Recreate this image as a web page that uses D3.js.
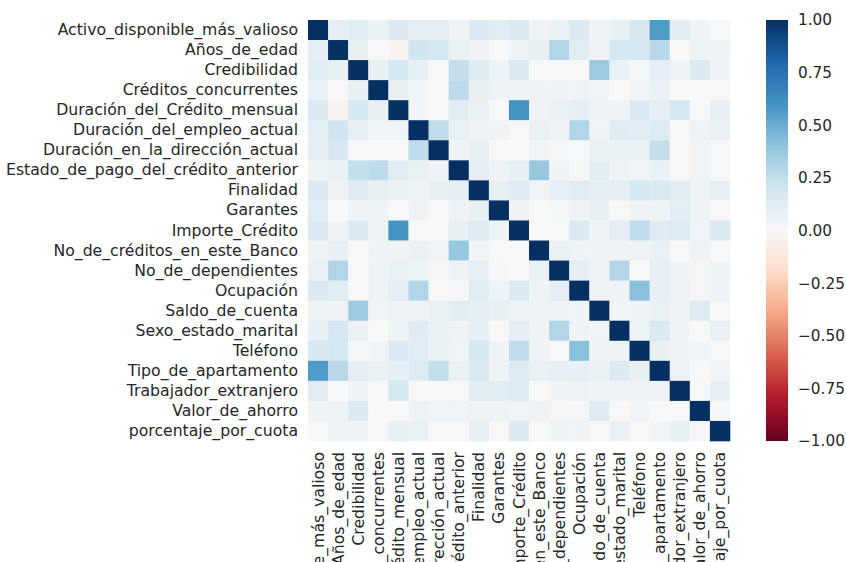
<!DOCTYPE html>
<html>
<head>
<meta charset="utf-8">
<script src="https://cdn.jsdelivr.net/npm/d3@7"></script>
<style>
  html, body { margin: 0; padding: 0; background: #fff; }
  svg text { font-family: "DejaVu Sans", sans-serif; fill: #262626; }
</style>
</head>
<body>
<svg id="chart" width="846" height="562"></svg>
<script>
// Variables of the credit dataset (row / column order)
const variables = [
  "Activo_disponible_más_valioso",
  "Años_de_edad",
  "Credibilidad",
  "Créditos_concurrentes",
  "Duración_del_Crédito_mensual",
  "Duración_del_empleo_actual",
  "Duración_en_la_dirección_actual",
  "Estado_de_pago_del_crédito_anterior",
  "Finalidad",
  "Garantes",
  "Importe_Crédito",
  "No_de_créditos_en_este_Banco",
  "No_de_dependientes",
  "Ocupación",
  "Saldo_de_cuenta",
  "Sexo_estado_marital",
  "Teléfono",
  "Tipo_de_apartamento",
  "Trabajador_extranjero",
  "Valor_de_ahorro",
  "porcentaje_por_cuota"
];

// Pairwise correlation matrix
const correlations = [
  [1, 0.10, 0.12, 0.07, 0.15, 0.10, 0.10, 0.04, 0.15, 0.12, 0.15, 0.04, 0.07, 0.15, 0.04, 0.08, 0.17, 0.57, 0.11, 0.04, 0.00],
  [0.10, 1, 0.08, 0.00, -0.03, 0.20, 0.18, 0.07, 0.04, 0.00, 0.04, 0.08, 0.30, 0.12, 0.05, 0.18, 0.18, 0.28, 0.00, 0.05, 0.05],
  [0.12, 0.08, 1, 0.08, 0.18, 0.09, 0.00, 0.24, 0.13, 0.05, 0.15, 0.00, 0.00, 0.00, 0.37, 0.07, 0.01, 0.10, 0.05, 0.15, 0.04],
  [0.07, 0.00, 0.08, 1, 0.08, 0.03, 0.00, 0.26, 0.08, 0.04, 0.04, 0.05, 0.05, 0.05, 0.03, 0.00, 0.03, 0.07, 0.00, 0.00, 0.00],
  [0.15, -0.03, 0.18, 0.08, 1, 0.03, 0.00, 0.12, 0.07, 0.00, 0.60, 0.04, 0.07, 0.10, 0.04, 0.05, 0.15, 0.10, 0.18, 0.00, 0.08],
  [0.10, 0.20, 0.09, 0.03, 0.03, 1, 0.25, 0.07, 0.05, 0.04, 0.00, 0.07, 0.05, 0.30, 0.05, 0.13, 0.12, 0.14, 0.00, 0.04, 0.07],
  [0.10, 0.18, 0.00, 0.00, 0.00, 0.25, 1, 0.04, 0.08, 0.00, 0.00, 0.03, 0.01, 0.00, 0.07, 0.07, 0.07, 0.24, 0.00, 0.03, 0.00],
  [0.04, 0.07, 0.24, 0.26, 0.12, 0.07, 0.04, 1, 0.10, 0.04, 0.08, 0.38, 0.04, 0.01, 0.11, 0.05, 0.03, 0.07, 0.00, 0.03, 0.00],
  [0.15, 0.04, 0.13, 0.08, 0.07, 0.05, 0.08, 0.10, 1, 0.08, 0.13, 0.03, 0.09, 0.12, 0.10, 0.10, 0.18, 0.16, 0.11, 0.05, 0.08],
  [0.12, 0.00, 0.05, 0.04, 0.00, 0.04, 0.00, 0.04, 0.08, 1, 0.05, 0.00, 0.01, 0.05, 0.08, 0.00, 0.04, 0.04, 0.11, 0.05, 0.00],
  [0.15, 0.04, 0.15, 0.04, 0.60, 0.00, 0.00, 0.08, 0.13, 0.05, 1, 0.00, 0.00, 0.15, 0.05, 0.10, 0.25, 0.13, 0.14, 0.03, 0.15],
  [0.04, 0.08, 0.00, 0.05, 0.04, 0.07, 0.03, 0.38, 0.03, 0.00, 0.00, 1, 0.07, 0.05, 0.04, 0.04, 0.05, 0.07, 0.00, 0.04, 0.00],
  [0.07, 0.30, 0.00, 0.05, 0.07, 0.05, 0.01, 0.04, 0.09, 0.01, 0.00, 0.07, 1, 0.10, 0.04, 0.30, 0.00, 0.09, 0.04, 0.02, 0.05],
  [0.15, 0.12, 0.00, 0.05, 0.10, 0.30, 0.00, 0.01, 0.12, 0.05, 0.15, 0.05, 0.10, 1, 0.04, 0.04, 0.42, 0.09, 0.06, 0.02, 0.04],
  [0.04, 0.05, 0.37, 0.03, 0.04, 0.05, 0.07, 0.11, 0.10, 0.08, 0.05, 0.04, 0.04, 0.04, 1, 0.03, 0.05, 0.07, 0.04, 0.13, 0.00],
  [0.08, 0.18, 0.07, 0.00, 0.05, 0.13, 0.07, 0.05, 0.10, 0.00, 0.10, 0.04, 0.30, 0.04, 0.03, 1, 0.05, 0.15, 0.04, 0.00, 0.07],
  [0.17, 0.18, 0.01, 0.03, 0.15, 0.12, 0.07, 0.03, 0.18, 0.04, 0.25, 0.05, 0.00, 0.42, 0.05, 0.05, 1, 0.08, 0.04, 0.03, 0.00],
  [0.57, 0.28, 0.10, 0.07, 0.10, 0.14, 0.24, 0.07, 0.16, 0.04, 0.13, 0.07, 0.09, 0.09, 0.07, 0.15, 0.08, 1, 0.06, 0.00, 0.03],
  [0.11, 0.00, 0.05, 0.00, 0.18, 0.00, 0.00, 0.00, 0.11, 0.11, 0.14, 0.00, 0.04, 0.06, 0.04, 0.04, 0.04, 0.06, 1, 0.00, 0.08],
  [0.04, 0.05, 0.15, 0.00, 0.00, 0.04, 0.03, 0.03, 0.05, 0.05, 0.03, 0.04, 0.02, 0.02, 0.13, 0.00, 0.03, 0.00, 0.00, 1, 0.01],
  [0.00, 0.05, 0.04, 0.00, 0.08, 0.07, 0.00, 0.00, 0.08, 0.00, 0.15, 0.00, 0.05, 0.04, 0.00, 0.07, 0.00, 0.03, 0.08, 0.01, 1]
];

// Colour bar ticks
const colorbarTicks = [1.00, 0.75, 0.50, 0.25, 0.00, -0.25, -0.50, -0.75, -1.00];

// Diverging red-blue palette (blue = positive)
const paletteStops = ["#67001f", "#b2182b", "#d6604d", "#f4a582", "#fddbc7", "#f7f7f7",
                      "#d1e5f0", "#92c5de", "#4393c3", "#2166ac", "#053061"];

const labelSize = "15.7px";

const svg = d3.select("#chart");

const grid = { left: 308, top: 20, right: 730, bottom: 441 };

const x = d3.scaleBand().domain(variables).range([grid.left, grid.right]);
const y = d3.scaleBand().domain(variables).range([grid.top, grid.bottom]);

const color = d3.scaleLinear()
  .domain(d3.range(paletteStops.length).map(i => -1 + 2 * i / (paletteStops.length - 1)))
  .range(paletteStops)
  .interpolate(d3.interpolateRgb)
  .clamp(true);

// Heatmap cells
const cells = [];
correlations.forEach((row, i) => row.forEach((v, j) => cells.push({ r: variables[i], c: variables[j], v })));

svg.append("g")
  .selectAll("rect")
  .data(cells)
  .join("rect")
  .attr("x", d => x(d.c))
  .attr("y", d => y(d.r))
  .attr("width", x.bandwidth() + 0.3)
  .attr("height", y.bandwidth() + 0.3)
  .attr("fill", d => color(d.v));

// Row labels
const yAxis = svg.append("g")
  .attr("transform", `translate(${grid.left},0)`)
  .call(d3.axisLeft(y).tickSize(0).tickPadding(10));
yAxis.select(".domain").remove();
yAxis.selectAll("text").style("font-size", labelSize).style("font-family", "DejaVu Sans").attr("fill", "#262626");

// Column labels, rotated
const xAxis = svg.append("g")
  .attr("transform", `translate(0,${grid.bottom})`)
  .call(d3.axisBottom(x).tickSize(0).tickPadding(0));
xAxis.select(".domain").remove();
xAxis.selectAll("text")
  .style("font-size", labelSize).style("font-family", "DejaVu Sans").attr("fill", "#262626")
  .attr("transform", "rotate(-90)")
  .attr("text-anchor", "end")
  .attr("x", -11)
  .attr("y", 0)
  .attr("dy", "0.35em");

// Colour bar
const cb = { x: 766, width: 22, top: grid.top, bottom: grid.bottom };
const grad = svg.append("defs").append("linearGradient")
  .attr("id", "cbGrad").attr("x1", 0).attr("x2", 0).attr("y1", 1).attr("y2", 0);
grad.selectAll("stop")
  .data(d3.range(0, 1.0001, 0.02))
  .join("stop")
  .attr("offset", t => t)
  .attr("stop-color", t => color(-1 + 2 * t));

svg.append("rect")
  .attr("x", cb.x).attr("y", cb.top)
  .attr("width", cb.width).attr("height", cb.bottom - cb.top)
  .attr("fill", "url(#cbGrad)");

const cbScale = d3.scaleLinear().domain([-1, 1]).range([cb.bottom, cb.top]);
const cbAxis = svg.append("g")
  .attr("transform", `translate(${cb.x + cb.width},0)`)
  .call(d3.axisRight(cbScale).tickValues(colorbarTicks).tickFormat(d3.format(".2f")).tickSize(0).tickPadding(10));
cbAxis.select(".domain").remove();
cbAxis.selectAll("text").style("font-size", "15.3px").style("font-family", "DejaVu Sans").attr("fill", "#262626");
</script>
</body>
</html>
